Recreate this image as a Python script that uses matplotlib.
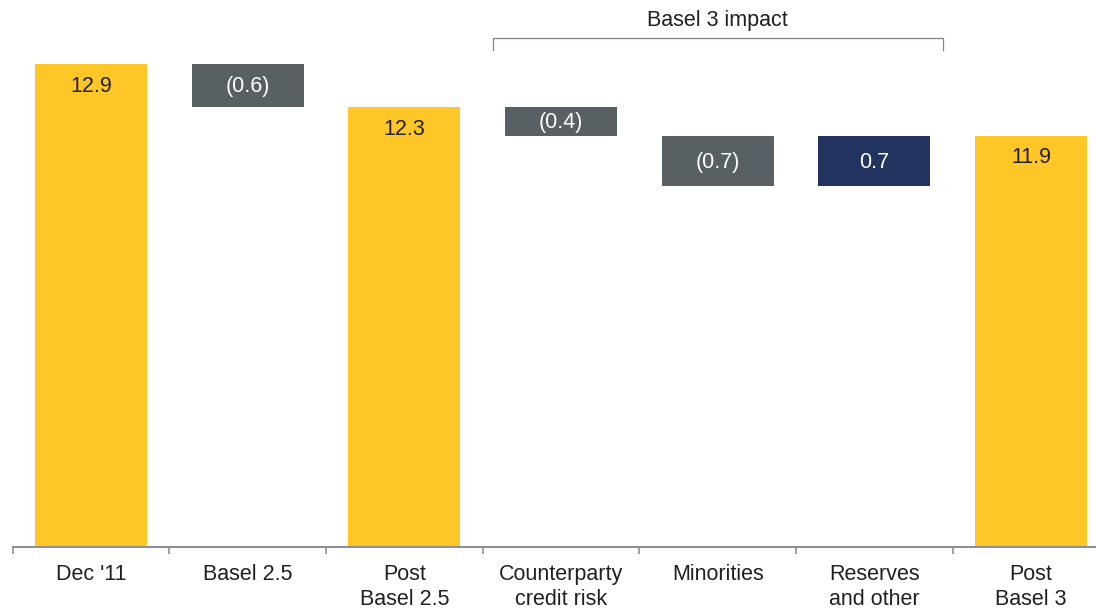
import matplotlib.pyplot as plt

plt.rcParams['font.family'] = ['Liberation Sans', 'DejaVu Sans']

# Core tier 1 ratio walk (%)
categories = ["Dec '11", "Basel 2.5", "Post\nBasel 2.5", "Counterparty\ncredit risk",
              "Minorities", "Reserves\nand other", "Post\nBasel 3"]
values = [12.9, -0.6, 12.3, -0.4, -0.7, 0.7, 11.9]
is_total = [True, False, True, False, False, False, True]
labels = ["12.9", "(0.6)", "12.3", "(0.4)", "(0.7)", "0.7", "11.9"]
bracket_span = (3, 5)
bracket_label = "Basel 3 impact"

YELLOW = '#FEC627'
GREY = '#596063'
NAVY = '#22335F'
TEXT = '#231F20'
AXIS = '#8C9196'
FS = 15.5

y_min, y_max = 6.17, 13.79

fig = plt.figure(figsize=(10.96, 6.09), dpi=100)
ax = fig.add_axes([0.0116, 0.1018, 1.0006, 0.8982])

running = 0.0
for i, (v, tot, lab) in enumerate(zip(values, is_total, labels)):
    if tot:
        running = v
        ax.bar(i, v - y_min, bottom=y_min, width=0.715, color=YELLOW)
        ax.text(i, v - 0.31, lab, ha='center', va='center', fontsize=FS, color=TEXT)
    else:
        start = running
        running = running + v
        lo, hi = min(start, running), max(start, running)
        color = NAVY if v > 0 else GREY
        ax.bar(i, hi - lo, bottom=lo, width=0.715, color=color)
        ax.text(i, (lo + hi) / 2 - 0.02, lab, ha='center', va='center', fontsize=FS, color='white')

# bracket over the Basel 3 adjustments
x0, x1 = bracket_span[0] - 0.434, bracket_span[1] + 0.44
y_top, y_tick = 13.256, 13.09
ax.plot([x0, x0, x1, x1], [y_tick, y_top, y_top, y_tick], color='#7F868C',
        lw=0.9, clip_on=False)
ax.text((bracket_span[0] + bracket_span[1]) / 2, 13.51, bracket_label,
        ha='center', va='center', fontsize=FS, color=TEXT)

ax.set_xlim(-0.5, 6.5)
ax.set_ylim(y_min, y_max)
ax.set_xticks(range(len(categories)))
ax.set_xticklabels(categories, fontsize=FS, color=TEXT, linespacing=1.3)
ax.set_xticks([i + 0.5 for i in range(-1, len(categories))], minor=True)
ax.tick_params(axis='x', which='major', length=0, pad=12)
ax.tick_params(axis='x', which='minor', length=5, width=1.2, color=AXIS, direction='out')
ax.set_yticks([])
for side in ['top', 'right', 'left']:
    ax.spines[side].set_visible(False)
ax.spines['bottom'].set_color(AXIS)
ax.spines['bottom'].set_linewidth(1.5)

fig.savefig('out.png', dpi=100)
